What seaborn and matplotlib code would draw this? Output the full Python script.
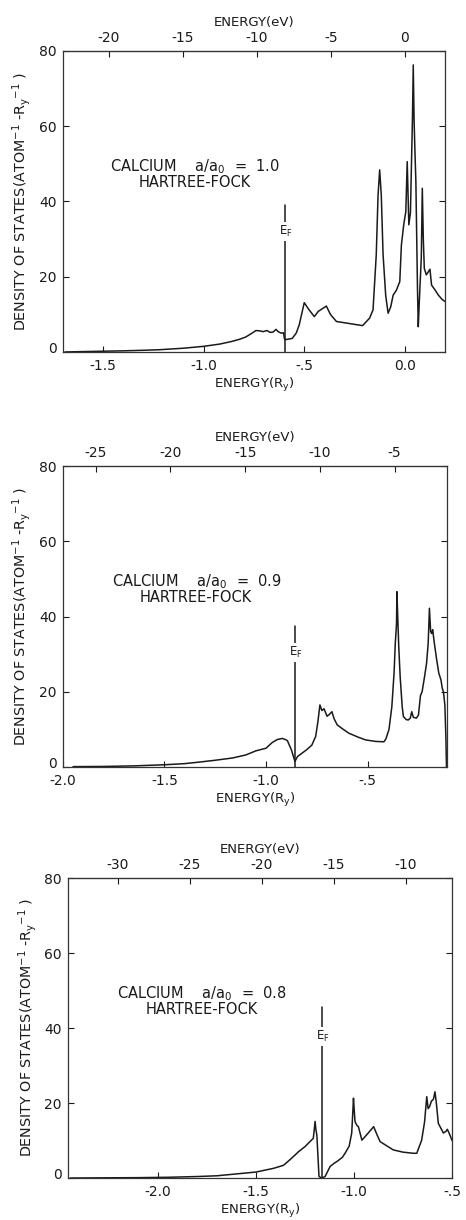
import matplotlib
matplotlib.use("Agg")
import matplotlib.pyplot as plt
import matplotlib.transforms as mtrans
import seaborn as sns
import pandas as pd

RY_TO_EV = 13.6

# panel 1: a/a0 = 1.0
e1 = [-1.69, -1.60, -1.50, -1.40, -1.30, -1.22, -1.10, -1.00, -0.92, -0.86, -0.82, -0.79,
      -0.76, -0.74, -0.72, -0.705, -0.685, -0.67, -0.655, -0.64, -0.63, -0.615, -0.603,
      -0.598, -0.59, -0.56, -0.54, -0.525, -0.50, -0.48, -0.45, -0.43, -0.39, -0.37, -0.34,
      -0.28, -0.21, -0.175, -0.158, -0.142, -0.133, -0.125, -0.117, -0.108, -0.095, -0.083,
      -0.07, -0.058, -0.042, -0.025, -0.017, -0.005, 0.005, 0.012, 0.02, 0.028, 0.033,
      0.038, 0.042, 0.046, 0.05, 0.055, 0.063, 0.067, 0.071, 0.075, 0.082, 0.087, 0.092,
      0.097, 0.107, 0.117, 0.125, 0.133, 0.15, 0.167, 0.185, 0.2]
d1 = [0.0, 0.1, 0.2, 0.3, 0.45, 0.6, 1.0, 1.5, 2.1, 2.8, 3.4, 4.0,
      5.0, 5.7, 5.6, 5.4, 5.7, 5.2, 5.3, 6.0, 5.4, 5.0, 5.1,
      3.4, 3.3, 3.6, 5.0, 7.2, 13.1, 11.5, 9.4, 10.8, 12.2, 10.0, 8.1,
      7.6, 7.0, 9.0, 11.2, 25.8, 41.7, 48.4, 41.7, 25.8, 15.0, 10.3,
      12.0, 15.1, 16.4, 18.7, 28.4, 34.0, 37.3, 50.6, 33.8, 37.0, 49.7,
      62.0, 76.3, 62.0, 54.0, 45.3, 16.9, 6.7, 12.0, 16.9, 25.0, 43.5, 30.0,
      22.2, 20.5, 21.3, 22.0, 17.8, 16.5, 15.1, 14.0, 13.4]

# panel 2: a/a0 = 0.9
e2 = [-1.95, -1.80, -1.65, -1.50, -1.40, -1.33, -1.25, -1.165, -1.10, -1.05, -1.00, -0.97,
      -0.945, -0.92, -0.905, -0.895, -0.875, -0.858, -0.845, -0.82, -0.80, -0.775, -0.756,
      -0.745, -0.735, -0.725, -0.715, -0.70, -0.688, -0.676, -0.665, -0.65, -0.62, -0.593,
      -0.55, -0.51, -0.46, -0.42, -0.41, -0.395, -0.381, -0.37, -0.364, -0.358, -0.356,
      -0.352, -0.347, -0.34, -0.33, -0.324, -0.31, -0.30, -0.29, -0.283, -0.275, -0.26,
      -0.25, -0.24, -0.232, -0.22, -0.21, -0.202, -0.196, -0.19, -0.185, -0.18, -0.172,
      -0.16, -0.15, -0.139, -0.133, -0.127, -0.12, -0.115, -0.112]
d2 = [0.1, 0.15, 0.3, 0.6, 0.9, 1.3, 1.8, 2.4, 3.2, 4.3, 5.0, 6.5,
      7.3, 7.6, 7.3, 7.0, 4.5, 1.5, 2.8, 3.8, 4.6, 5.8, 8.1,
      12.0, 16.5, 15.0, 15.5, 13.5, 14.0, 14.7, 12.8, 11.2, 10.0, 9.0,
      8.0, 7.2, 6.8, 6.7, 7.5, 10.0, 16.0, 25.0, 32.9, 38.0, 46.6,
      40.0, 32.0, 24.0, 16.0, 13.4, 12.6, 12.5, 13.0, 14.7, 13.2, 13.0,
      13.8, 19.0, 20.0, 24.0, 27.6, 33.0, 42.2, 36.0, 35.5, 36.5, 33.0,
      28.4, 25.0, 23.1, 21.0, 20.0, 16.5, 8.0, 0.0]

# panel 3: a/a0 = 0.8
e3 = [-2.45, -2.30, -2.10, -1.95, -1.80, -1.70, -1.58, -1.50, -1.41, -1.36, -1.327, -1.30,
      -1.284, -1.25, -1.208, -1.203, -1.199, -1.195, -1.19, -1.179, -1.165, -1.148, -1.122,
      -1.10, -1.088, -1.06, -1.046, -1.025, -1.012, -1.006, -1.003, -0.999, -0.995, -0.985,
      -0.978, -0.96, -0.936, -0.90, -0.885, -0.867, -0.80, -0.75, -0.697, -0.68, -0.655,
      -0.64, -0.629, -0.622, -0.615, -0.605, -0.595, -0.587, -0.58, -0.57, -0.544, -0.53,
      -0.524, -0.515, -0.507, -0.50]
d3 = [0.0, 0.05, 0.1, 0.2, 0.4, 0.6, 1.2, 1.6, 2.6, 3.4, 4.9, 6.2,
      7.0, 8.4, 10.6, 13.0, 15.1, 13.0, 11.5, 0.4, 0.0, 0.4, 3.1,
      4.0, 4.4, 5.5, 6.6, 8.5, 12.0, 18.0, 21.3, 18.0, 15.0, 14.0,
      13.7, 10.1, 11.5, 13.7, 11.8, 9.7, 7.5, 6.9, 6.6, 6.6, 10.1,
      15.0, 21.7, 18.5, 19.0, 20.5, 21.0, 23.0, 20.0, 14.6, 12.0, 12.5,
      13.0, 12.0, 11.0, 10.0]

ratios = ["1.0", "0.9", "0.8"]
fermi = [-0.597, -0.858, -1.165]
fermi_top = [39, 37.5, 45.6]
fermi_lbl = [32, 30.5, 37.7]
xlims = [(-1.70, 0.20), (-2.0, -0.11), (-2.46, -0.50)]
ry_ticks = [[-1.5, -1.0, -0.5, 0.0], [-2.0, -1.5, -1.0, -0.5], [-2.0, -1.5, -1.0, -0.5]]
ry_labels = [["-1.5", "-1.0", "-.5", "0.0"], ["-2.0", "-1.5", "-1.0", "-.5"],
             ["-2.0", "-1.5", "-1.0", "-.5"]]
ev_ticks = [[-20, -15, -10, -5, 0], [-25, -20, -15, -10, -5], [-30, -25, -20, -15, -10]]
text_x = [(-1.465, -1.325), (-1.756, -1.62), (-2.208, -2.066)]

sns.set_style("ticks")
plt.rcParams['font.family'] = ['DejaVu Sans']
plt.rcParams['mathtext.default'] = 'regular'

fig = plt.figure(figsize=(4.66, 12.2), dpi=100)
boxes = [[0.135, 0.7115, 0.820, 0.2467],
         [0.135, 0.3713, 0.824, 0.2467],
         [0.146, 0.0344, 0.824, 0.2459]]
ink = '#1a1a1a'

for i, (e, d) in enumerate([(e1, d1), (e2, d2), (e3, d3)]):
    ax = fig.add_axes(boxes[i])
    df = pd.DataFrame({'E': e, 'DOS': d})
    sns.lineplot(data=df, x='E', y='DOS', ax=ax, color=ink, lw=1.1,
                 estimator=None, sort=False)
    ax.set_xlim(*xlims[i])
    ax.set_ylim(0, 80)
    ax.set_xticks(ry_ticks[i])
    ax.set_xticklabels(ry_labels[i])
    ax.set_yticks([0, 20, 40, 60, 80])
    ax.set_xlabel("ENERGY(R$_y$)", fontsize=9.5, color=ink, labelpad=2)
    ax.set_ylabel("DENSITY OF STATES(ATOM$^{-1}$ -R$_y$$^{-1}$ )", fontsize=10.3,
                  color=ink, labelpad=4)
    ax.tick_params(direction='in', length=4, width=0.8, labelsize=10,
                   colors=ink, right=True, pad=4.5)
    ax.tick_params(axis='x', pad=5)
    # the "0" label sits a little above the corner, as in the original
    lift = mtrans.ScaledTranslation(0, 3 / 72, fig.dpi_scale_trans)
    y0 = ax.get_yticklabels()[0]
    y0.set_transform(y0.get_transform() + lift)
    for s in ax.spines.values():
        s.set_color('#333333')
        s.set_linewidth(0.9)

    top = ax.secondary_xaxis('top', functions=(lambda x: x * RY_TO_EV,
                                               lambda v: v / RY_TO_EV))
    top.set_xticks(ev_ticks[i])
    top.set_xticklabels([str(t) for t in ev_ticks[i]])
    top.tick_params(direction='in', length=4, width=0.8, labelsize=10,
                    colors=ink, pad=4)
    top.set_xlabel("ENERGY(eV)", fontsize=9.5, color=ink, labelpad=4)
    top.spines['top'].set_color('#333333')

    # Fermi level marker
    ax.plot([fermi[i], fermi[i]], [0, fermi_top[i]], color=ink, lw=1.1)
    ax.text(fermi[i] + 0.004, fermi_lbl[i], "E$_F$", fontsize=8.5, color=ink,
            ha='center', va='center',
            bbox=dict(facecolor='white', edgecolor='none', pad=1.5))

    ax.text(text_x[i][0], 49.2, "CALCIUM    a/a$_0$  =  " + ratios[i], fontsize=10.5,
            color=ink, ha='left', va='center')
    ax.text(text_x[i][1], 45.0, "HARTREE-FOCK", fontsize=10.5, color=ink,
            ha='left', va='center')

fig.savefig("out.png", dpi=100)
